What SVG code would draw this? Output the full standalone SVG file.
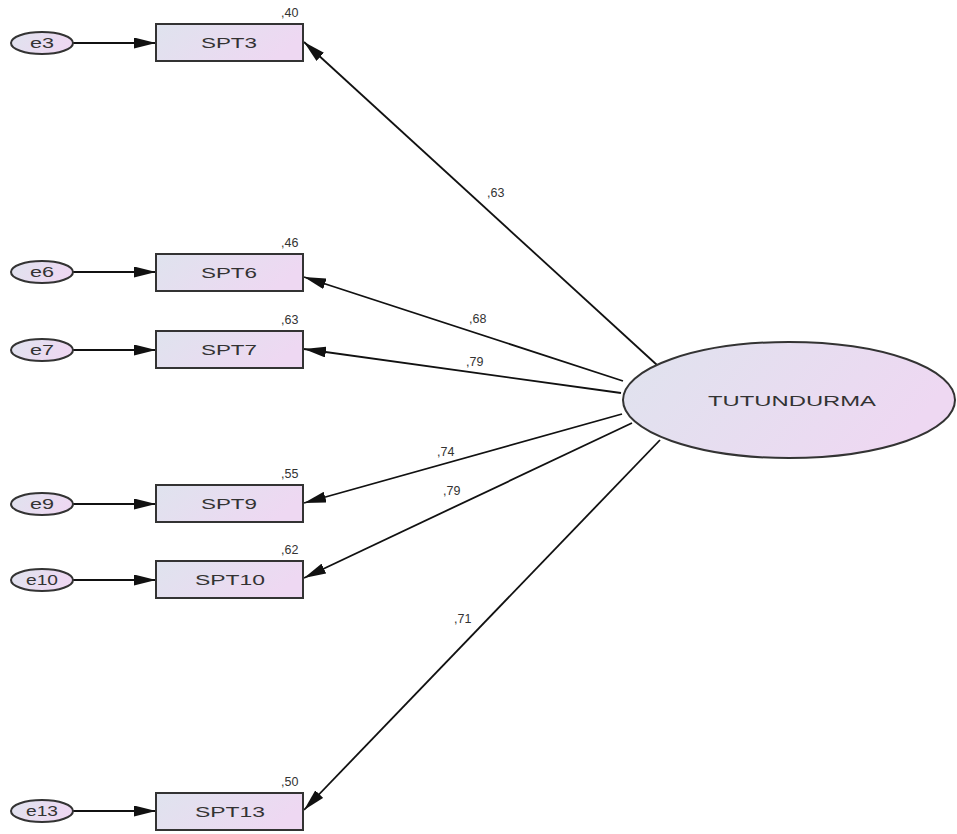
<svg xmlns="http://www.w3.org/2000/svg" width="957" height="834" viewBox="0 0 957 834">
  <defs>
    <linearGradient id="fill" x1="0" y1="0" x2="1" y2="0.3">
      <stop offset="0" stop-color="#dfe3ee"/>
      <stop offset="1" stop-color="#eed8f2"/>
    </linearGradient>
    <marker id="arr" viewBox="0 0 22 11" refX="22" refY="5.5" markerWidth="22" markerHeight="11" markerUnits="userSpaceOnUse" orient="auto">
      <path d="M0,0 L22,5.5 L0,11 z" fill="#111"/>
    </marker>
  </defs>
  <style>
    .box { fill: url(#fill); stroke: #333; stroke-width: 2; }
    .err { fill: url(#fill); stroke: #333; stroke-width: 2; }
    .lat { fill: url(#fill); stroke: #333; stroke-width: 2; }
    .lbl { font-family: "Liberation Sans", Arial, sans-serif; font-size: 15px; fill: #333; text-anchor: middle; }
    .num { font-family: "Liberation Sans", Arial, sans-serif; font-size: 12.5px; fill: #333; }
    .edge { stroke: #111; stroke-width: 1.8; fill: none; marker-end: url(#arr); }
  </style>
  <rect width="957" height="834" fill="#fff"/>

  <!-- connectors -->
  <g id="connectors">
    <!-- error terms to indicators -->
    <line class="edge" x1="73" y1="43" x2="156" y2="43"/>
    <line class="edge" x1="73" y1="272" x2="156" y2="272"/>
    <line class="edge" x1="73" y1="350" x2="156" y2="350"/>
    <line class="edge" x1="73" y1="504" x2="156" y2="504"/>
    <line class="edge" x1="73" y1="580" x2="156" y2="580"/>
    <line class="edge" x1="73" y1="811" x2="156" y2="811"/>
    <!-- factor loadings -->
    <line class="edge" x1="657" y1="365" x2="304" y2="42"/>
    <line class="edge" x1="623" y1="381" x2="304" y2="277"/>
    <line class="edge" x1="621" y1="393" x2="304" y2="349"/>
    <line class="edge" x1="622" y1="414" x2="304" y2="503"/>
    <line class="edge" x1="632" y1="423" x2="304" y2="578"/>
    <line class="edge" x1="660" y1="440" x2="304" y2="810"/>
    <text class="num" x="487" y="197">,63</text>
    <text class="num" x="469" y="323">,68</text>
    <text class="num" x="466" y="366">,79</text>
    <text class="num" x="437" y="456">,74</text>
    <text class="num" x="443" y="495">,79</text>
    <text class="num" x="454" y="623">,71</text>
  </g>

  <!-- latent factor -->
  <g id="TUTUNDURMA">
    <ellipse class="lat" cx="789" cy="400" rx="166" ry="58"/>
    <text class="lbl" x="792" y="406" font-size="16" textLength="168" lengthAdjust="spacingAndGlyphs">TUTUNDURMA</text>
  </g>

  <!-- indicators -->
  <g id="SPT3">
    <rect class="box" x="156" y="24" width="147" height="37"/>
    <text class="lbl" x="229" y="48" textLength="56" lengthAdjust="spacingAndGlyphs">SPT3</text>
    <text class="num" x="281" y="17">,40</text>
  </g>
  <g id="SPT6">
    <rect class="box" x="156" y="254" width="147" height="37"/>
    <text class="lbl" x="229" y="278" textLength="56" lengthAdjust="spacingAndGlyphs">SPT6</text>
    <text class="num" x="281" y="247">,46</text>
  </g>
  <g id="SPT7">
    <rect class="box" x="156" y="331" width="147" height="37"/>
    <text class="lbl" x="229" y="355" textLength="56" lengthAdjust="spacingAndGlyphs">SPT7</text>
    <text class="num" x="281" y="324">,63</text>
  </g>
  <g id="SPT9">
    <rect class="box" x="156" y="485" width="147" height="37"/>
    <text class="lbl" x="229" y="509" textLength="56" lengthAdjust="spacingAndGlyphs">SPT9</text>
    <text class="num" x="281" y="478">,55</text>
  </g>
  <g id="SPT10">
    <rect class="box" x="156" y="561" width="147" height="37"/>
    <text class="lbl" x="230" y="585" textLength="70" lengthAdjust="spacingAndGlyphs">SPT10</text>
    <text class="num" x="281" y="554">,62</text>
  </g>
  <g id="SPT13">
    <rect class="box" x="156" y="793" width="147" height="37"/>
    <text class="lbl" x="230" y="817" textLength="70" lengthAdjust="spacingAndGlyphs">SPT13</text>
    <text class="num" x="281" y="786">,50</text>
  </g>

  <!-- error terms -->
  <g id="e3">
    <ellipse class="err" cx="42" cy="43" rx="31" ry="11"/>
    <text class="lbl" x="42" y="48" textLength="24" lengthAdjust="spacingAndGlyphs">e3</text>
  </g>
  <g id="e6">
    <ellipse class="err" cx="42" cy="272" rx="31" ry="11"/>
    <text class="lbl" x="42" y="277" textLength="24" lengthAdjust="spacingAndGlyphs">e6</text>
  </g>
  <g id="e7">
    <ellipse class="err" cx="42" cy="350" rx="31" ry="11"/>
    <text class="lbl" x="42" y="355" textLength="24" lengthAdjust="spacingAndGlyphs">e7</text>
  </g>
  <g id="e9">
    <ellipse class="err" cx="42" cy="504" rx="31" ry="11"/>
    <text class="lbl" x="42" y="509" textLength="24" lengthAdjust="spacingAndGlyphs">e9</text>
  </g>
  <g id="e10">
    <ellipse class="err" cx="42" cy="580" rx="31" ry="11"/>
    <text class="lbl" x="42" y="585" textLength="32" lengthAdjust="spacingAndGlyphs">e10</text>
  </g>
  <g id="e13">
    <ellipse class="err" cx="42" cy="811" rx="31" ry="11"/>
    <text class="lbl" x="42" y="816" textLength="32" lengthAdjust="spacingAndGlyphs">e13</text>
  </g>
</svg>
